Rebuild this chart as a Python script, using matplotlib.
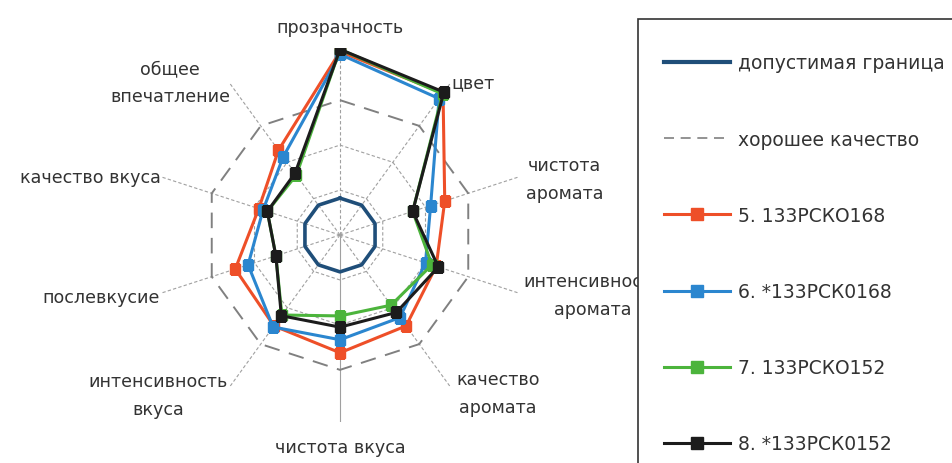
import numpy as np
import matplotlib
matplotlib.use("Agg")
import matplotlib.pyplot as plt
from matplotlib.lines import Line2D
from matplotlib.patches import Rectangle

plt.rcParams['font.family'] = ['DejaVu Sans']

# --- данные ---
categories = ['прозрачность', 'цвет', 'чистота\nаромата', 'интенсивность\nаромата',
              'качество\nаромата', 'чистота вкуса', 'интенсивность\nвкуса',
              'послевкусие', 'качество вкуса', 'общее\nвпечатление']

limit_vals = [0.82, 0.82, 0.82, 0.82, 0.82, 0.82, 0.82, 0.82, 0.82, 0.82]   # допустимая граница
good_vals = [3.0, 3.0, 3.0, 3.0, 3.0, 3.0, 3.0, 3.0, 3.0, 3.0]              # хорошее качество

s5 = [4.08, 3.90, 2.45, 2.25, 2.50, 2.62, 2.50, 2.45, 1.90, 2.33]
s6 = [4.02, 3.75, 2.12, 2.00, 2.27, 2.33, 2.53, 2.15, 1.80, 2.15]
s7 = [4.13, 3.88, 1.70, 2.15, 1.93, 1.80, 2.20, 1.50, 1.70, 1.65]
s8 = [4.13, 3.93, 1.70, 2.30, 2.13, 2.05, 2.22, 1.50, 1.70, 1.70]

series_names = ['5. 133РСКО168', '6. *133РСК0168', '7. 133РСКО152', '8. *133РСК0152']
series_colors = ['#ee4f28', '#2b86cf', '#4cb43c', '#1c1c1c']

rmax = 4.16

n = len(categories)
theta = np.linspace(0, 2 * np.pi, n, endpoint=False)
theta_c = np.append(theta, theta[0])

def closed(v):
    return np.append(v, v[0])

fig = plt.figure(figsize=(9.52, 4.64), dpi=100)
ax = fig.add_axes([153 / 952, 41 / 464, 374 / 952, 374 / 464], projection='polar')
ax.set_theta_offset(np.pi / 2)
ax.set_theta_direction(-1)
ax.set_ylim(0, rmax)
ax.set_xticks([])
ax.set_yticks([])
ax.grid(False)
ax.spines['polar'].set_visible(False)

# сетка
for lev in [1, 2]:
    ax.plot(theta_c, [lev] * (n + 1), color='#a0a0a0', lw=0.8, ls=(0, (3, 2)), zorder=1)
for i, t in enumerate(theta):
    ls = '-' if i == 5 else (0, (3, 2))
    ax.plot([t, t], [0, rmax], color='#a0a0a0', lw=0.8, ls=ls, zorder=1)

# пороги
ax.plot(theta_c, closed(limit_vals), color='#1f4e79', lw=2.6, zorder=3)
ax.plot(theta_c, closed(good_vals), color='#808080', lw=1.4, ls=(0, (8, 5)), zorder=2)

for vals, col in zip([s5, s6, s7, s8], series_colors):
    ax.plot(theta_c, closed(vals), color=col, lw=2.2, marker='s', ms=7,
            mec=col, mfc=col, zorder=4)

# подписи осей
lab_pos = [(0, 4.62, 'center'), (36, 4.2, 'left'), (76, 5.15, 'center'),
           (103.3, 5.78, 'center'), (135, 4.97, 'center'), (180, 4.71, 'center'),
           (228.7, 5.39, 'center'), (255.5, 5.5, 'center'), (283.1, 5.7, 'center'),
           (312, 5.08, 'center')]
for (deg, r, ha), lab in zip(lab_pos, categories):
    ax.text(np.deg2rad(deg), r, lab, ha=ha, va='center', fontsize=12.6,
            color='#333333', linespacing=1.75, clip_on=False)

# легенда
handles = [Line2D([], [], color='#1f4e79', lw=3),
           Line2D([], [], color='#808080', lw=1.2, ls=(0, (6, 4)))]
for col in series_colors:
    handles.append(Line2D([], [], color=col, lw=2.2, marker='s', ms=9, mfc=col, mec=col))
labels = ['допустимая граница', 'хорошее качество'] + series_names

fig.add_artist(Rectangle((638 / 952, -0.1), 0.5, 1 - 20 / 464 + 0.1,
                         transform=fig.transFigure, fc='white', ec='#333333', lw=1.2,
                         zorder=2))
fig.legend(handles, labels, loc='upper left', bbox_to_anchor=(656 / 952, 1 - 47 / 464),
           frameon=False, fontsize=13.5, handlelength=3.55, handletextpad=0.42,
           labelspacing=3.05, borderaxespad=0, labelcolor='#333333').set_zorder(3)

fig.savefig('out.png', dpi=100, facecolor='white')
